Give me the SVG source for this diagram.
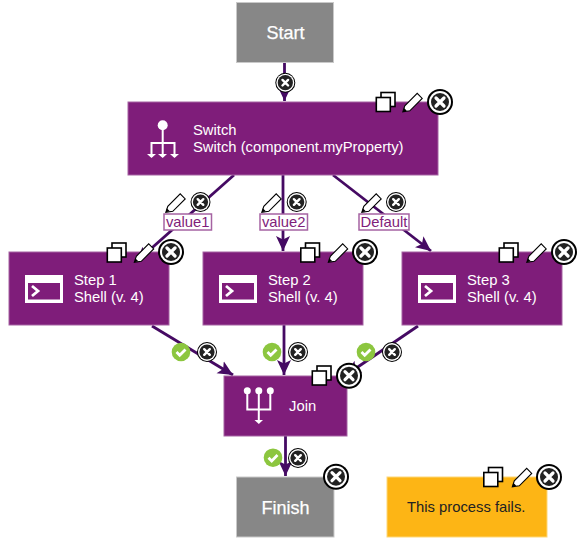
<svg xmlns="http://www.w3.org/2000/svg" width="581" height="544" viewBox="0 0 581 544">
<style>
text{font-family:"Liberation Sans",Arial,sans-serif}
.p{fill:#7f1d7a;stroke:#a563a2;stroke-width:1}
.g{fill:#878787;stroke:#c9c9c9;stroke-width:1}
.a{fill:#fdb515;stroke:#fed778;stroke-width:1}
.t{font-size:14.800px;fill:#fff}
.s{font-size:18px;fill:#fff;text-anchor:middle;stroke:#fff;stroke-width:.25px}
.e{fill:none;stroke:#450a63;stroke-width:2.800}
.lb{fill:#fff;stroke:#a563a2;stroke-width:1.500}
.lt{font-size:14.800px;fill:#7f1d7a;text-anchor:middle}
.w{fill:none;stroke:#fff;stroke-width:2}
</style>
<defs>
<marker id="ah" markerUnits="userSpaceOnUse" markerWidth="16" markerHeight="16" refX="15" refY="8" orient="auto"><path d="M0 1L15 8L0 15L3.500 8Z" fill="#450a63"/></marker>
<g id="del"><circle r="13" fill="#000"/><circle r="11" fill="#fff"/><circle r="9" fill="#222"/><path d="M-4-4L4 4M4-4L-4 4" stroke="#fff" stroke-width="3.200" stroke-linecap="round"/></g>
<g id="dels"><circle r="10" fill="#000"/><circle r="9" fill="#fff"/><circle r="7.600" fill="#222"/><path d="M-2.800-2.800L2.800 2.800M2.800-2.800L-2.800 2.800" stroke="#fff" stroke-width="2.400" stroke-linecap="round"/></g>
<g id="copy"><rect x="5.500" y="0.500" width="14" height="14" fill="#fff" stroke="#000" stroke-width="1.600"/><rect x="0.800" y="5.500" width="14" height="14" fill="#fff" stroke="#000" stroke-width="1.600"/></g>
<g id="pen"><path d="M.8 19.800L2.800 13.800L15.200 1.400L20.200 6.400L7.800 18.800Z" fill="#fff" stroke="#000" stroke-width="1.100" stroke-linejoin="miter"/><path d="M.8 19.800L1.800 15.800L4.800 18.800Z" fill="#000"/></g>
<g id="ok"><circle r="9.300" fill="#8cc63f"/><path d="M-4.500 0L-1.300 3.200L4.500-2.600" fill="none" stroke="#fff" stroke-width="2.800"/></g>
<g id="shell"><rect width="38" height="28" fill="#fff"/><rect x="3" y="8" width="32" height="16.500" fill="#7f1d7a"/><path d="M7 11L13 16L7 21" fill="none" stroke="#fff" stroke-width="2.800"/></g>
</defs>
<g id="connectors">
<path class="e" d="M284.500 62V101" marker-end="url(#ah)"/>
<path class="e" d="M234 175L136 262" marker-end="url(#ah)"/>
<path class="e" d="M283 175V251" marker-end="url(#ah)"/>
<path class="e" d="M333 175L431 251" marker-end="url(#ah)"/>
<path class="e" d="M152 326L233 375" marker-end="url(#ah)"/>
<path class="e" d="M284 325V375" marker-end="url(#ah)"/>
<path class="e" d="M418 326L346 375" marker-end="url(#ah)"/>
<path class="e" d="M285.500 436V476" marker-end="url(#ah)"/>
</g>
<g id="start"><rect class="g" x="236.500" y="2.500" width="97" height="60"/><text class="s" x="285.500" y="38.500">Start</text></g>
<g id="switch"><rect class="p" x="128" y="102" width="310" height="73"/>
<circle cx="162.700" cy="125.300" r="5" fill="#fff"/><path class="w" d="M162.700 128V143M151.500 157V143H174.500V157M162.700 143V157"/><path d="M147 154H156L151.500 158ZM158 154H167L162.700 158ZM170 154H179L174.500 158Z" fill="#fff"/>
<text class="t" x="193" y="135">Switch</text><text class="t" x="193" y="152">Switch (component.myProperty)</text></g>
<g id="step1"><rect class="p" x="9" y="252" width="160" height="73"/><use href="#shell" x="25" y="275"/><text class="t" x="74" y="285">Step 1</text><text class="t" x="74" y="302">Shell (v. 4)</text></g>
<g id="step2"><rect class="p" x="203" y="252" width="160" height="73"/><use href="#shell" x="219" y="275"/><text class="t" x="268" y="285">Step 2</text><text class="t" x="268" y="302">Shell (v. 4)</text></g>
<g id="step3"><rect class="p" x="402" y="252" width="160" height="73"/><use href="#shell" x="418" y="275"/><text class="t" x="467" y="285">Step 3</text><text class="t" x="467" y="302">Shell (v. 4)</text></g>
<g id="join"><rect class="p" x="224" y="376" width="123" height="60"/>
<circle cx="247.300" cy="390.700" r="3.500" fill="#fff"/><circle cx="258.800" cy="390.700" r="3.500" fill="#fff"/><circle cx="270.300" cy="390.700" r="3.500" fill="#fff"/>
<path class="w" d="M247.300 393V409.500H270.300V393M258.800 393V421"/><path d="M254.500 420H263L258.800 424Z" fill="#fff"/>
<text class="t" x="289" y="411">Join</text></g>
<g id="finish"><rect class="g" x="236.500" y="477" width="97.500" height="60"/><text class="s" x="285.500" y="513.500">Finish</text></g>
<g id="note"><rect class="a" x="387" y="477" width="160" height="60"/><text x="407" y="512" font-size="14.800" fill="#222">This process fails.</text></g>
<g id="labels">
<rect class="lb" x="164" y="214" width="47.500" height="16"/><text class="lt" x="187.700" y="227">value1</text>
<rect class="lb" x="260" y="214" width="47.500" height="16"/><text class="lt" x="283.700" y="227">value2</text>
<rect class="lb" x="359" y="214" width="50" height="16"/><text class="lt" x="384" y="227">Default</text>
</g>
<g id="controls">
<use href="#dels" x="285.300" y="82.700"/>
<use href="#copy" x="375.500" y="92"/><use href="#pen" x="402" y="92"/><use href="#del" x="440" y="102"/>
<use href="#pen" x="165" y="192.500"/><use href="#dels" x="200.500" y="202"/>
<use href="#pen" x="261" y="192.500"/><use href="#dels" x="296.700" y="202"/>
<use href="#pen" x="361" y="192.500"/><use href="#dels" x="396" y="202"/>
<use href="#copy" x="106.500" y="242.500"/><use href="#pen" x="133.500" y="242.500"/><use href="#del" x="171" y="252"/>
<use href="#copy" x="300" y="242.500"/><use href="#pen" x="327.500" y="242.500"/><use href="#del" x="365" y="252"/>
<use href="#copy" x="498.500" y="242.500"/><use href="#pen" x="526" y="242.500"/><use href="#del" x="564" y="252"/>
<use href="#ok" x="181" y="352"/><use href="#dels" x="207" y="352"/>
<use href="#ok" x="272" y="352"/><use href="#dels" x="298" y="352"/>
<use href="#ok" x="366" y="352"/><use href="#dels" x="392" y="352"/>
<use href="#copy" x="311.500" y="365.500"/><use href="#del" x="349" y="375.700"/>
<use href="#ok" x="273" y="457.700"/><use href="#dels" x="298" y="458"/>
<use href="#del" x="336" y="476.700"/>
<use href="#copy" x="483" y="467"/><use href="#pen" x="511.500" y="467"/><use href="#del" x="549" y="477"/>
</g>
</svg>
